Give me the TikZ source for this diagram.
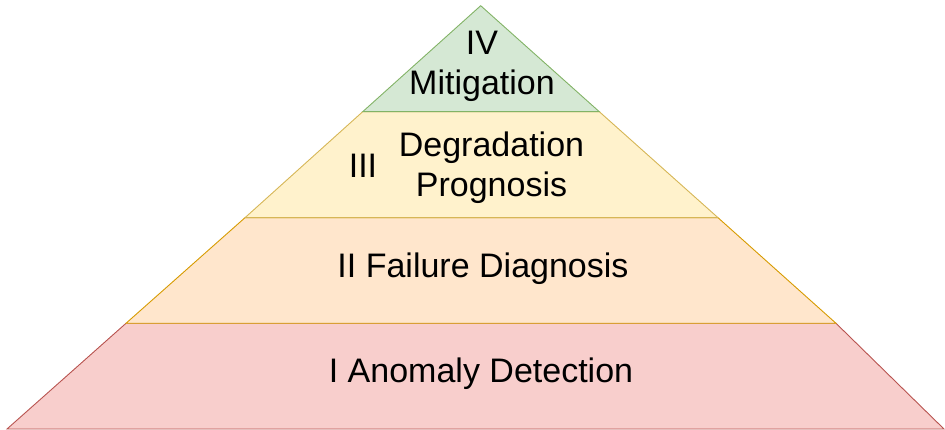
\documentclass[tikz,border=0pt]{standalone}
\usepackage{fontspec}
\setmainfont{Liberation Sans}
\definecolor{redfill}{HTML}{F8CECC}
\definecolor{redline}{HTML}{B85450}
\definecolor{orangefill}{HTML}{FFE6CC}
\definecolor{orangeline}{HTML}{D79B00}
\definecolor{yellowfill}{HTML}{FFF2CC}
\definecolor{yellowline}{HTML}{D6B656}
\definecolor{greenfill}{HTML}{D5E8D4}
\definecolor{greenline}{HTML}{82B366}
\begin{document}
\begin{tikzpicture}[x=1pt,y=-1pt,
	layer/.style={line width=0.9pt, line join=miter},
	lbl/.style={font=\fontsize{34}{40}\selectfont, align=center, inner sep=0pt}]
	\useasboundingbox (0,0) rectangle (945,430);

	% base to top
	\draw[layer, fill=redfill, draw=redline] (7,429) -- (944,429) -- (836,323.3) -- (126,323.3) -- cycle;
	\draw[layer, fill=orangefill, draw=orangeline] (126,323.3) -- (836,323.3) -- (718,217.7) -- (245,217.7) -- cycle;
	\draw[layer, fill=yellowfill, draw=yellowline] (245,217.7) -- (718,217.7) -- (599.3,111.7) -- (362.7,111.7) -- cycle;
	\draw[layer, fill=greenfill, draw=greenline] (362.7,111.7) -- (599.3,111.7) -- (480.7,5.7) -- cycle;

	\node[lbl] (lvlI) at (481,374) {I Anomaly Detection};
	\node[lbl] (lvlII) at (483,269) {II Failure Diagnosis};
	\node[lbl] (lvlIIInum) at (363,165.5) {III};
	\node[lbl] (lvlIII) at (491.5,167.5) {Degradation\\Prognosis};
	\node[lbl] (lvlIV) at (482,66.5) {IV\\Mitigation};
\end{tikzpicture}
\end{document}
